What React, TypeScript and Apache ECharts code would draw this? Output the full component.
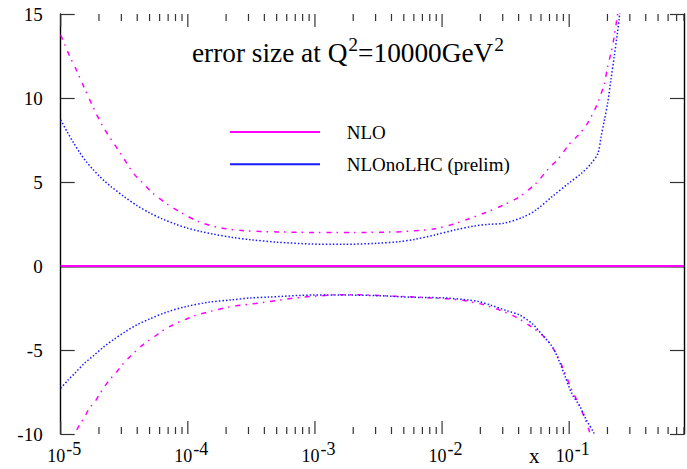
import React, { useEffect, useRef } from "react";
import * as echarts from "echarts";

const FONT = '"Liberation Serif", "Times New Roman", serif';

const X_MIN = 1e-5;
const X_MAX = 0.8;
const Y_MIN = -10;
const Y_MAX = 15;
const Y_STEP = 5;

const legendNames = ["NLO", "NLOnoLHC (prelim)"];
const titleParts = ["error size at Q", "2", "=10000GeV", "2"];
const xAxisName = "x";

// central line (relative error = 0)
const centralLogX = [-5, -0.0969];
const centralValue = [0, 0];

// NLO upper error (log10 x, value)
const nloUpLogX = [-5.0, -4.967, -4.928, -4.877, -4.818, -4.728, -4.659, -4.582, -4.505, -4.428, -4.352, -4.275, -4.159, -4.044, -3.915, -3.762, -3.557, -3.3, -3.0, -2.7, -2.4, -2.211, -2.057, -1.926, -1.8, -1.672, -1.518, -1.39, -1.262, -1.159, -1.082, -1.005, -0.928, -0.865, -0.8, -0.762, -0.723, -0.698, -0.672, -0.646, -0.634, -0.6];
const nloUp = [13.75, 13.15, 12.46, 11.67, 10.67, 9.18, 8.19, 7.3, 6.41, 5.52, 4.92, 4.33, 3.67, 3.14, 2.64, 2.3, 2.1, 2.03, 2.0, 2.0, 2.02, 2.1, 2.22, 2.46, 2.78, 3.14, 3.63, 4.13, 4.92, 5.82, 6.41, 7.2, 7.8, 8.39, 9.29, 9.98, 10.87, 11.86, 12.66, 13.65, 14.24, 16.0];

// NLO lower error
const nloDownLogX = [-5.0, -4.89, -4.852, -4.813, -4.775, -4.736, -4.698, -4.659, -4.613, -4.569, -4.523, -4.475, -4.423, -4.372, -4.313, -4.257, -4.198, -4.134, -4.069, -4.005, -3.942, -3.8, -3.659, -3.518, -3.377, -3.236, -3.095, -2.954, -2.813, -2.672, -2.531, -2.39, -2.249, -2.108, -1.967, -1.826, -1.749, -1.685, -1.549, -1.415, -1.3, -1.185, -1.103, -1.043, -0.985, -0.928, -0.872, -0.846, -0.82];
const nloDown = [-11.6, -10.0, -9.46, -9.01, -8.47, -8.14, -7.68, -7.22, -6.75, -6.39, -5.95, -5.54, -5.16, -4.8, -4.46, -4.17, -3.85, -3.57, -3.33, -3.14, -2.94, -2.66, -2.42, -2.28, -2.14, -1.98, -1.86, -1.77, -1.71, -1.71, -1.74, -1.79, -1.83, -1.89, -1.95, -2.06, -2.18, -2.28, -2.62, -3.06, -3.61, -4.3, -5.2, -6.19, -7.28, -8.17, -9.17, -9.72, -10.5];

// NLOnoLHC upper error
const noLhcUpLogX = [-5.0, -4.95, -4.9, -4.85, -4.8, -4.75, -4.7, -4.65, -4.6, -4.5, -4.4, -4.3, -4.2, -4.1, -4.0, -3.9, -3.8, -3.65, -3.5, -3.3, -3.031, -2.775, -2.518, -2.338, -2.211, -2.057, -1.903, -1.749, -1.634, -1.518, -1.365, -1.262, -1.134, -1.005, -0.903, -0.826, -0.774, -0.749, -0.723, -0.698, -0.672, -0.646, -0.621, -0.608, -0.59];
const noLhcUp = [8.7, 8.0, 7.35, 6.75, 6.22, 5.78, 5.38, 5.02, 4.7, 4.12, 3.6, 3.16, 2.8, 2.5, 2.25, 2.06, 1.9, 1.7, 1.56, 1.42, 1.31, 1.29, 1.35, 1.45, 1.59, 1.85, 2.14, 2.38, 2.48, 2.54, 2.9, 3.33, 4.13, 4.92, 5.52, 6.11, 6.71, 7.7, 8.69, 9.68, 11.07, 12.46, 13.85, 14.64, 16.0];

// NLOnoLHC lower error
const noLhcDownLogX = [-5.0, -4.942, -4.89, -4.813, -4.736, -4.659, -4.582, -4.492, -4.403, -4.3, -4.172, -4.018, -3.838, -3.659, -3.505, -3.365, -3.005, -2.749, -2.492, -2.236, -1.98, -1.8, -1.711, -1.621, -1.492, -1.39, -1.288, -1.211, -1.134, -1.082, -1.031, -0.98, -0.915, -0.865, -0.805, -0.79];
const noLhcDown = [-7.28, -6.79, -6.39, -5.79, -5.3, -4.8, -4.37, -3.91, -3.51, -3.15, -2.76, -2.42, -2.16, -2.02, -1.9, -1.85, -1.73, -1.73, -1.77, -1.86, -1.9, -2.02, -2.12, -2.32, -2.66, -2.92, -3.45, -4.11, -4.8, -5.6, -6.59, -7.58, -8.37, -9.17, -9.96, -10.5];

// x-axis tick positions: decades and mantissas
const tickDecades = [-5, -4, -3, -2, -1];
const tickMantissas = [1, 2, 3, 4, 5, 6, 7, 8, 9];

const MAGENTA = "#ff00ff";
const BLUE = "#1a1aff";

const toPairs = (lx: number[], ys: number[]) => lx.map((l, i) => [Math.pow(10, l), ys[i]]);

export default function App() {
  const ref = useRef<HTMLDivElement>(null);

  useEffect(() => {
    document.body.style.margin = "0";
    if (!ref.current) return;
    const chart = echarts.init(ref.current, null, { renderer: "svg" });

    const tickData: number[][] = [];
    tickDecades.forEach((d) => {
      tickMantissas.forEach((m) => {
        const v = m * Math.pow(10, d);
        if (v <= X_MAX) tickData.push([v, m === 1 ? 1 : 0]);
      });
    });

    const xLabelFormatter = (v: number) => {
      const lg = Math.log10(v);
      const e = Math.round(lg);
      if (Math.abs(lg - e) > 1e-6) return "";
      return `{b|10}{s|${e}}`;
    };

    const axisLineStyle = { color: "#000", width: 1.4 };

    const option: any = {
      animation: false,
      backgroundColor: "#fff",
      grid: { left: 60.7, right: -12, top: 14, bottom: 35 },
      legend: {
        data: legendNames,
        orient: "vertical",
        left: 230,
        top: 122,
        padding: 0,
        // a 90px bar followed by empty room before the text
        icon: "path://M0,0H90V2H0ZM111.7,2",
        itemWidth: 111.7,
        itemHeight: 2,
        itemGap: 12.3,
        selectedMode: false,
        textStyle: { fontFamily: FONT, fontSize: 19, color: "#000", lineHeight: 20 },
      },
      xAxis: [
        {
          type: "log",
          logBase: 10,
          min: X_MIN,
          max: X_MAX,
          position: "bottom",
          axisLine: { show: true, lineStyle: axisLineStyle },
          axisTick: { show: false },
          minorTick: { show: false },
          splitLine: { show: false },
          axisLabel: {
            formatter: xLabelFormatter,
            margin: 6,
            color: "#000",
            rich: {
              b: { fontFamily: FONT, fontSize: 18, color: "#000", padding: [0, 0, 0, 7] },
              s: { fontFamily: FONT, fontSize: 18, color: "#000", padding: [0, 0, 13, 1] },
            },
          },
        },
        {
          type: "log",
          logBase: 10,
          min: X_MIN,
          max: X_MAX,
          position: "top",
          axisLine: { show: true, lineStyle: axisLineStyle },
          axisTick: { show: false },
          axisLabel: { show: false },
          splitLine: { show: false },
        },
      ],
      yAxis: [
        {
          type: "value",
          min: Y_MIN,
          max: Y_MAX,
          interval: Y_STEP,
          position: "left",
          axisLine: { show: true, lineStyle: axisLineStyle },
          axisTick: { show: true, inside: true, length: 14, lineStyle: { color: "#333", width: 1.2 } },
          splitLine: { show: false },
          axisLabel: { fontFamily: FONT, fontSize: 19, color: "#000", margin: 18 },
        },
        {
          type: "value",
          min: Y_MIN,
          max: Y_MAX,
          interval: Y_STEP,
          position: "right",
          axisLine: { show: true, lineStyle: axisLineStyle },
          axisTick: { show: true, inside: true, length: 14, lineStyle: { color: "#333", width: 1.2 } },
          splitLine: { show: false },
          axisLabel: { show: false },
        },
      ],
      graphic: [
        {
          type: "text",
          left: 192,
          top: 34,
          style: {
            text: `{t|${titleParts[0]}}{s|${titleParts[1]}}{t|${titleParts[2]}}{s|${titleParts[3]}}`,
            rich: {
              t: { fontFamily: FONT, fontSize: 27.3, fill: "#000" },
              s: { fontFamily: FONT, fontSize: 19.5, fill: "#000", padding: [0, 0, 18, 1] },
            },
          },
        },
        {
          type: "text",
          left: 529,
          top: 445,
          style: { text: xAxisName, fontFamily: FONT, fontSize: 21, fill: "#000" },
        },
      ],
      series: [
        {
          name: legendNames[1],
          type: "line",
          symbol: "none",
          data: toPairs(centralLogX, centralValue),
          lineStyle: { color: BLUE, width: 0.8 },
          itemStyle: { color: BLUE },
          z: 2,
        },
        {
          name: legendNames[0],
          type: "line",
          symbol: "none",
          data: toPairs(centralLogX, centralValue),
          lineStyle: { color: MAGENTA, width: 1.8 },
          itemStyle: { color: MAGENTA },
          z: 3,
        },
        {
          name: legendNames[0],
          type: "line",
          symbol: "none",
          smooth: 0.3,
          data: toPairs(nloUpLogX, nloUp),
          lineStyle: { color: MAGENTA, width: 1.5, type: [5, 5, 1.5, 6] },
          z: 3,
        },
        {
          name: legendNames[0],
          type: "line",
          symbol: "none",
          smooth: 0.3,
          data: toPairs(nloDownLogX, nloDown),
          lineStyle: { color: MAGENTA, width: 1.5, type: [5, 5, 1.5, 6] },
          z: 3,
        },
        {
          name: legendNames[1],
          type: "line",
          symbol: "none",
          smooth: 0.3,
          data: toPairs(noLhcUpLogX, noLhcUp),
          lineStyle: { color: BLUE, width: 1.5, type: [1.5, 2] },
          z: 4,
        },
        {
          name: legendNames[1],
          type: "line",
          symbol: "none",
          smooth: 0.3,
          data: toPairs(noLhcDownLogX, noLhcDown),
          lineStyle: { color: BLUE, width: 1.5, type: [1.5, 2] },
          z: 4,
        },
        {
          name: "xticks",
          type: "custom",
          silent: true,
          clip: false,
          xAxisIndex: 0,
          yAxisIndex: 0,
          data: tickData,
          encode: { x: 0, y: 1 },
          renderItem: (params: any, api: any) => {
            const v = api.value(0);
            const major = api.value(1) === 1;
            const b = api.coord([v, Y_MIN]);
            const t = api.coord([v, Y_MAX]);
            const len = major ? 13 : 7;
            const style = { stroke: "#333", lineWidth: 1.2 };
            return {
              type: "group",
              children: [
                { type: "line", shape: { x1: b[0], y1: b[1], x2: b[0], y2: b[1] - len }, style },
                { type: "line", shape: { x1: t[0], y1: t[1], x2: t[0], y2: t[1] + len }, style },
              ],
            };
          },
        },
      ],
    };

    chart.setOption(option);
    return () => chart.dispose();
  }, []);

  return <div ref={ref} style={{ width: 687, height: 469 }} />;
}
